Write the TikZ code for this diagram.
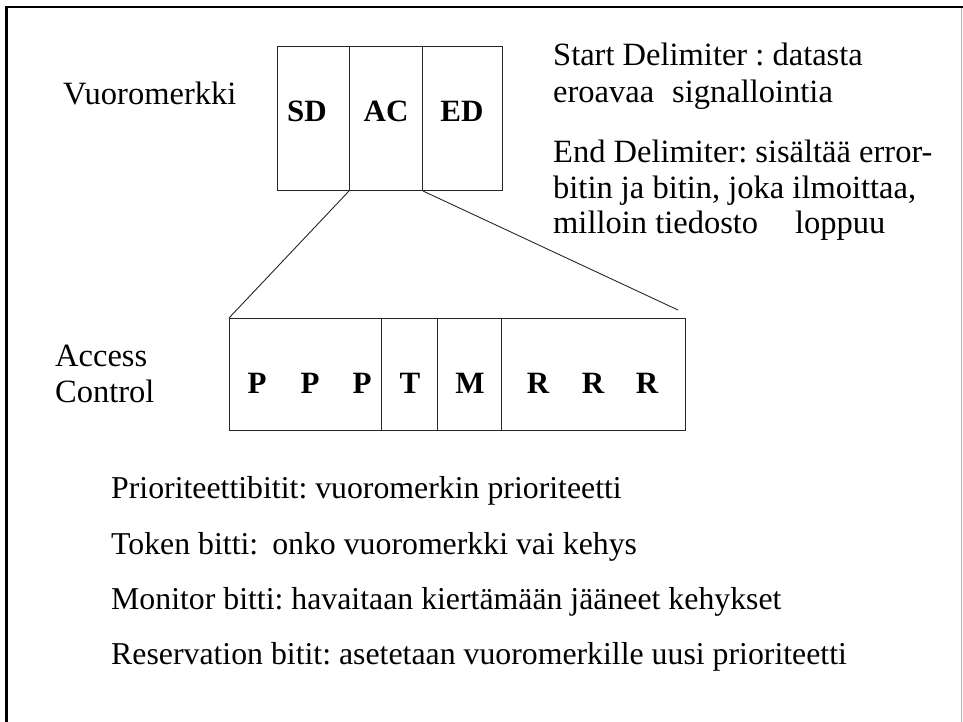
\documentclass[tikz,border=0pt]{standalone}
\usepackage{fontspec}
\setmainfont{Liberation Serif}
\frenchspacing
\begin{document}
\begin{tikzpicture}[x=1pt,y=-1pt,
  txt/.style={anchor=base west,inner sep=0pt,font=\fontsize{32.5}{37}\selectfont},
  note/.style={anchor=base west,inner sep=0pt,font=\fontsize{31.8}{37}\selectfont},
  bit/.style={anchor=base,inner sep=0pt,font=\fontsize{31}{36}\selectfont\bfseries},
  cell/.style={draw=black!85,line width=1pt,rectangle,inner sep=0pt,anchor=north west},
  link/.style={draw=black!85,line width=0.9pt}]
\useasboundingbox (0,0) rectangle (963,722);
% frame of the slide
\draw[line width=2.6pt] (6.3,722) -- (6.3,7) -- (963,7);
\draw[black!30,line width=1.2pt] (961.5,8) -- (961.5,722);

% token: SD | AC | ED
\node[cell,minimum width=72pt,minimum height=144pt] (sd) at (277,46) {};
\node[cell,minimum width=73pt,minimum height=144pt] (ac) at (349,46) {};
\node[cell,minimum width=80pt,minimum height=144pt] (ed) at (422,46) {};
\node[bit] (sdl) at (307,122) {SD};
\node[bit] (acl) at (386,122) {AC};
\node[bit] (edl) at (462,122) {ED};

% access control byte: PPP | T | M | RRR
\node[cell,minimum width=152pt,minimum height=112pt] (pp) at (229,318) {};
\node[cell,minimum width=56pt,minimum height=112pt] (tt) at (381,318) {};
\node[cell,minimum width=64pt,minimum height=112pt] (mm) at (437,318) {};
\node[cell,minimum width=184pt,minimum height=112pt] (rr) at (501,318) {};
\node[bit] (p1) at (257,393) {P};
\node[bit] (p2) at (310,393) {P};
\node[bit] (p3) at (362,393) {P};
\node[bit] (t1) at (410,393) {T};
\node[bit] (m1) at (470,393) {M};
\node[bit] (r1) at (538,393) {R};
\node[bit] (r2) at (593,393) {R};
\node[bit] (r3) at (647,393) {R};

% expansion lines from AC to the access control byte
\coordinate (zoomend) at (678,310);
\draw[link] (ac.south west) -- (pp.north west);
\draw[link] (ac.south east) -- (zoomend);

% labels
\node[txt] (vm) at (63,105) {Vuoromerkki};
\node[txt] (acc1) at (55,366) {Access};
\node[txt] (acc2) at (55,402) {Control};

\node[txt] (sdt1) at (553,66) {Start Delimiter : datasta};
\node[txt] (sdt2) at (553,103) {eroavaa\hspace{18pt}signallointia};
\node[txt] (edt1) at (553,163) {End Delimiter: sisältää error-};
\node[txt] (edt2) at (553,198) {bitin ja bitin, joka ilmoittaa,};
\node[txt] (edt3) at (553,233) {milloin tiedosto\hspace{37pt}loppuu};

\node[note] (d1) at (111,498) {Prioriteettibitit: vuoromerkin prioriteetti};
\node[note] (d2) at (111,554) {Token bitti:\hspace{14pt}onko vuoromerkki vai kehys};
\node[note] (d3) at (111,609) {Monitor bitti: havaitaan kiertämään jääneet kehykset};
\node[note] (d4) at (111,664) {Reservation bitit: asetetaan vuoromerkille uusi prioriteetti};
\end{tikzpicture}
\end{document}
